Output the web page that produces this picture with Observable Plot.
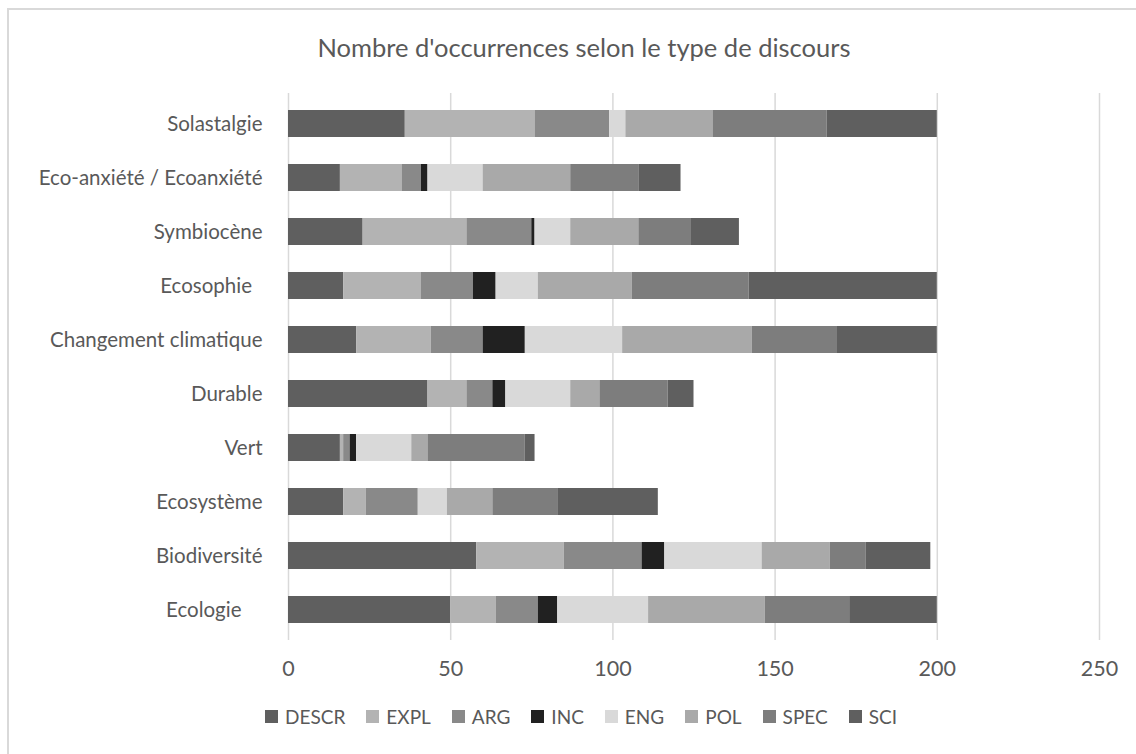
<!DOCTYPE html>
<html>
<head>
<meta charset="utf-8">
<script src="https://cdn.jsdelivr.net/npm/d3@7"></script>
<script src="https://cdn.jsdelivr.net/npm/@observablehq/plot@0.6"></script>
<style>
  html, body { margin: 0; padding: 0; background: #fff; }
  #wrap { position: relative; width: 1136px; height: 754px; overflow: hidden; font-family: Lato, "Open Sans", sans-serif; color: #595959; }
  #frame { position: absolute; left: 7px; top: 8px; width: 1200px; height: 800px; border-left: 2px solid #d9d9d9; border-top: 2px solid #d9d9d9; box-sizing: border-box; }
  #title { position: absolute; top: 32px; left: 16px; width: 1136px; text-align: center; font-size: 25.5px; line-height: normal; }
  #chart { position: absolute; top: 70px; left: 0; }
  #legend { position: absolute; top: 705px; left: 265px; display: flex; gap: 21px; font-size: 19px; line-height: normal; }
  .item { display: flex; align-items: center; gap: 7px; }
  .sw { width: 13px; height: 13px; display: inline-block; }
</style>
</head>
<body>
<div id="wrap">
  <div id="frame"></div>
  <div id="title">Nombre d'occurrences selon le type de discours</div>
  <div id="chart"></div>
  <div id="legend"></div>
</div>
<script>
const categories = ["Solastalgie", "Eco-anxiété / Ecoanxiété", "Symbiocène", "Ecosophie ", "Changement climatique", "Durable", "Vert", "Ecosystème", "Biodiversité", "Ecologie  "];
const seriesNames = ["DESCR", "EXPL", "ARG", "INC", "ENG", "POL", "SPEC", "SCI"];
const seriesColors = ["#5f5f5f", "#b3b3b3", "#898989", "#212121", "#d9d9d9", "#a9a9a9", "#7d7d7d", "#5f5f5f"];
// values per category, in series order
const DESCR = [36, 16, 23, 17, 21, 43, 16, 17, 58, 50];
const EXPL  = [40, 19, 32, 24, 23, 12, 1, 7, 27, 14];
const ARG   = [23, 6, 20, 16, 16, 8, 2, 16, 24, 13];
const INC   = [0, 2, 1, 7, 13, 4, 2, 0, 7, 6];
const ENG   = [5, 17, 11, 13, 30, 20, 17, 9, 30, 28];
const POL   = [27, 27, 21, 29, 40, 9, 5, 14, 21, 36];
const SPEC  = [35, 21, 16, 36, 26, 21, 30, 20, 11, 26];
const SCI   = [34, 13, 15, 58, 31, 8, 3, 31, 20, 27];
const xTicks = [0, 50, 100, 150, 200, 250];

const seriesValues = [DESCR, EXPL, ARG, INC, ENG, POL, SPEC, SCI];
const data = [];
categories.forEach((c, i) => {
  seriesNames.forEach((s, j) => {
    data.push({category: c, type: s, value: seriesValues[j][i]});
  });
});

const chart = Plot.plot({
  width: 1136,
  height: 620,
  marginLeft: 288,
  marginRight: 37,
  marginTop: 23,
  marginBottom: 50,
  style: {fontFamily: "Lato, 'Open Sans', sans-serif", color: "#595959", background: "transparent"},
  x: {domain: [0, 250], ticks: xTicks, tickSize: 0, tickPadding: 20, label: null},
  y: {domain: categories, paddingInner: 0.5, paddingOuter: 0.25, tickSize: 0, tickPadding: 26, label: null,
      tickFormat: d => d.replace(/ +$/, m => "\u00a0".repeat(m.length * 2))},
  color: {domain: seriesNames, range: seriesColors},
  marks: [
    Plot.gridX(xTicks, {stroke: "#d9d9d9", strokeOpacity: 1, strokeWidth: 1.5}),
    Plot.barX(data, Plot.stackX({x: "value", y: "category", fill: "type", order: seriesNames}))
  ]
});
chart.querySelectorAll("g[aria-label='x-axis tick label']").forEach(e => e.setAttribute("font-size", "21.5"));
chart.querySelectorAll("g[aria-label='y-axis tick label']").forEach(e => e.setAttribute("font-size", "20.5"));
document.getElementById("chart").appendChild(chart);

const legend = document.getElementById("legend");
seriesNames.forEach((s, j) => {
  const it = document.createElement("div");
  it.className = "item";
  const sw = document.createElement("span");
  sw.className = "sw";
  sw.style.background = seriesColors[j];
  const t = document.createElement("span");
  t.textContent = s;
  it.appendChild(sw); it.appendChild(t);
  legend.appendChild(it);
});
</script>
</body>
</html>
